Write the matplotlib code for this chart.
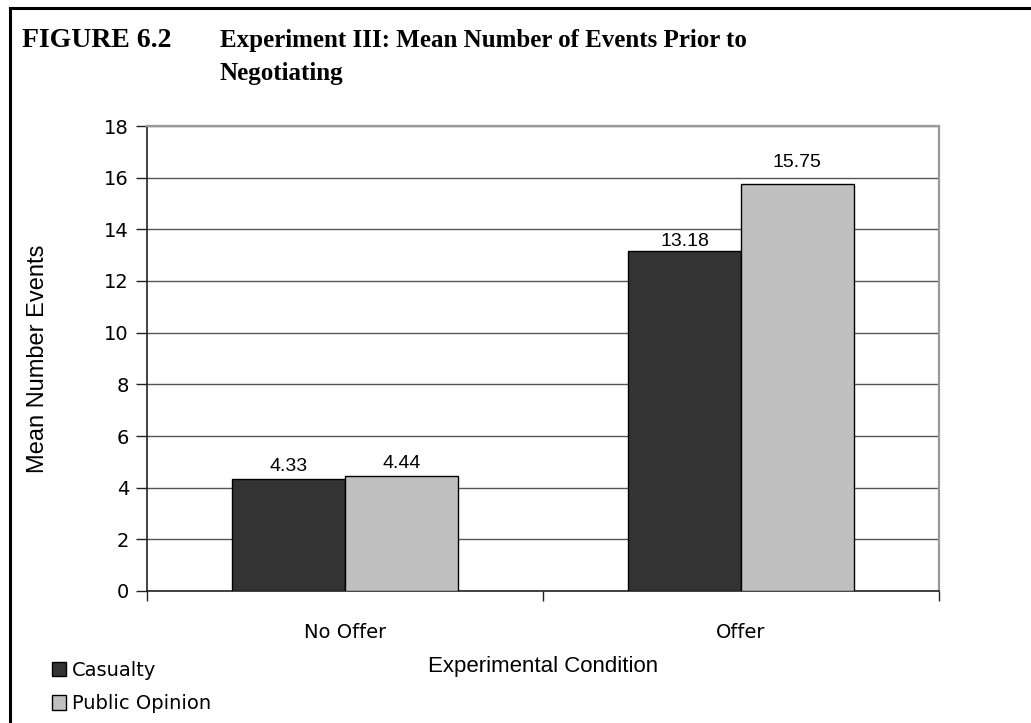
import numpy as np
import matplotlib
matplotlib.use('Agg')
import matplotlib.pyplot as plt
from matplotlib.lines import Line2D

conditions = ['No Offer', 'Offer']
series = ['Casualty', 'Public Opinion']
casualty = [4.33, 13.18]
public_opinion = [4.44, 15.75]
colors = ['#333333', '#c0c0c0']
# how far each value label sits above its bar, in points (per series, per condition)
label_lift = [[6, 3], [6, 12]]

W, H = 1031, 723
fig = plt.figure(figsize=(W / 100, H / 100), dpi=100)
ax = fig.add_axes([147 / W, 1 - 591 / H, (939 - 147) / W, (591 - 126) / H])

# page frame: top and left rules
fig.add_artist(Line2D([10 / W, 1], [1 - 7.5 / H] * 2, color='black', lw=2.2, transform=fig.transFigure))
fig.add_artist(Line2D([10 / W] * 2, [0, 1 - 7.5 / H], color='black', lw=2.2, transform=fig.transFigure))

title_font = dict(family='Liberation Serif', weight='bold', va='baseline', ha='left')
fig.text(22 / W, 1 - 47 / H, 'FIGURE 6.2', fontsize=20, **title_font)
fig.text(220 / W, 1 - 47 / H, 'Experiment III: Mean Number of Events Prior to', fontsize=18, **title_font)
fig.text(220 / W, 1 - 80 / H, 'Negotiating', fontsize=18, **title_font)

x = np.arange(len(conditions)) + 0.5
w = 0.285
for i, (vals, lab) in enumerate(zip([casualty, public_opinion], series)):
    pos = x + (i - 0.5) * w
    bars = ax.bar(pos, vals, width=w, color=colors[i], edgecolor='black', linewidth=1.0, label=lab, zorder=3)
    for j, (b, v) in enumerate(zip(bars, vals)):
        ax.annotate(f'{v:.2f}', (b.get_x() + b.get_width() / 2, v), xytext=(0, label_lift[i][j]),
                    textcoords='offset points', ha='center', va='baseline',
                    fontsize=14, family='Liberation Sans', zorder=4)

ax.set_xlim(0, 2)
ax.set_ylim(0, 18)
ax.set_yticks(np.arange(0, 19, 2))
ax.yaxis.grid(True, color='#555555', lw=1.0, zorder=0)
ax.set_xticks([0, 1, 2])
ax.set_xticklabels([])
ax.set_xticks(x, minor=True)
ax.set_xticklabels(conditions, minor=True)
ax.tick_params(axis='x', which='minor', length=0, pad=23, labelsize=14)
ax.tick_params(axis='x', which='major', length=7, direction='out', width=1, color='#222222')
ax.tick_params(axis='y', length=8, direction='out', width=1, labelsize=14, pad=5, color='#222222')

for s in ['top', 'right']:
    ax.spines[s].set_color('#999999')
    ax.spines[s].set_linewidth(1.6)
for s in ['left', 'bottom']:
    ax.spines[s].set_color('#222222')
    ax.spines[s].set_linewidth(1.2)

ax.set_xlabel('Experimental Condition', family='Liberation Sans', fontsize=16, labelpad=10)
ax.set_ylabel('Mean Number Events', family='Liberation Sans', fontsize=17, labelpad=40)

handles, labels = ax.get_legend_handles_labels()
fig.legend(handles, labels, loc='lower left', bbox_to_anchor=(44 / W, 2 / H), frameon=False,
           fontsize=14, handlelength=0.75, handleheight=0.75, handletextpad=0.3, labelspacing=0.75,
           borderaxespad=0)

fig.savefig('out.png', dpi=100)
